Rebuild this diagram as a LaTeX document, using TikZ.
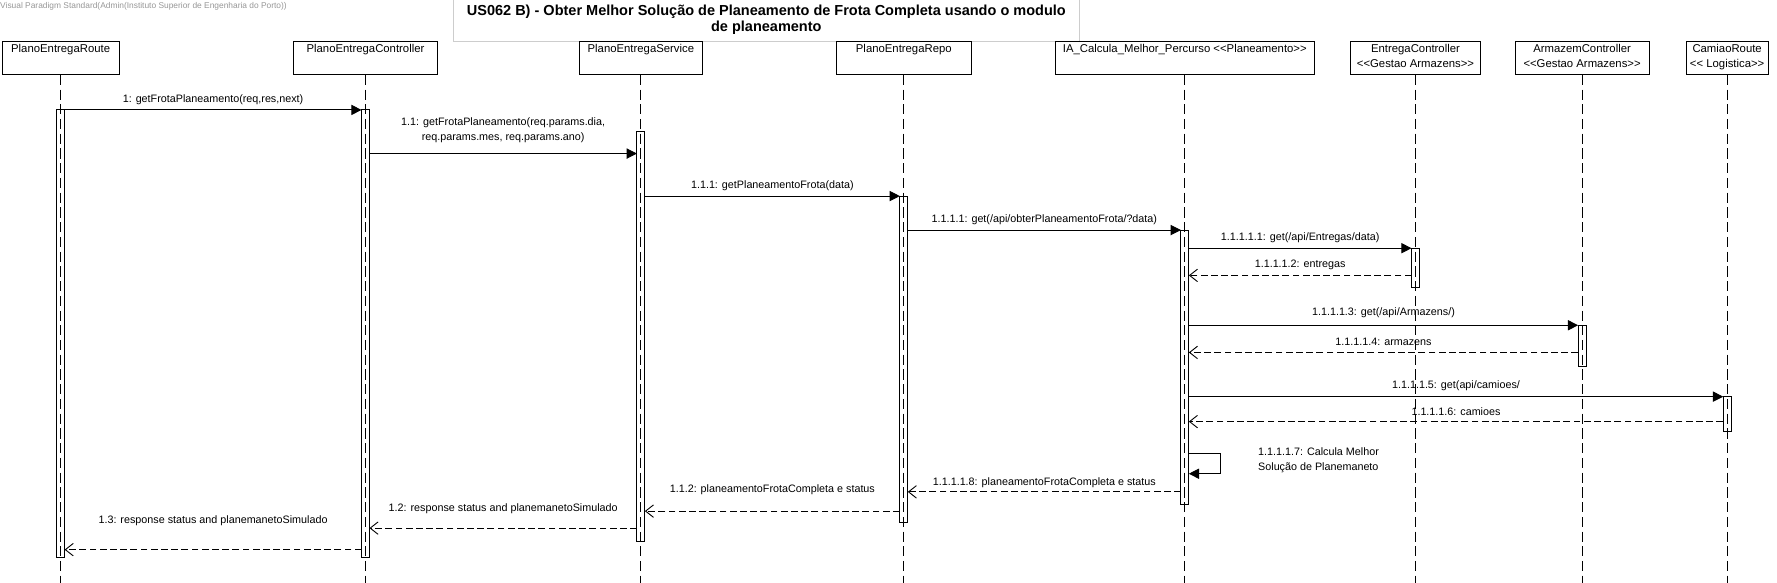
\documentclass[tikz,border=0pt]{standalone}
\usepackage{fontspec}
\setmainfont{Liberation Sans}
\usepackage{xcolor}
\usepackage{tikz}
\usetikzlibrary{arrows.meta, positioning, calc}
\definecolor{vpblack}{RGB}{0,0,0}
\definecolor{vpframe}{RGB}{205,205,205}
\definecolor{vpmark}{RGB}{150,150,150}

\begin{document}
\begin{tikzpicture}[
    x=1pt, y=-1pt,
    participant/.style={rectangle, draw=vpblack, line width=0.8pt, minimum height=29pt, inner sep=0pt, outer sep=0pt},
    pname/.style={anchor=north, align=center, font=\fontsize{10}{13}\selectfont, inner sep=2pt},
    lifeline/.style={line width=0.7pt, dash pattern=on 9pt off 4pt},
    activation/.style={rectangle, draw=vpblack, line width=0.8pt, minimum width=7pt, inner sep=0pt, outer sep=0pt},
    msg/.style={line width=0.8pt, -{Triangle[length=9pt, width=9pt]}},
    reply/.style={line width=0.8pt, dash pattern=on 6pt off 3pt, -{Straight Barb[length=7pt, width=11pt]}},
    msglabel/.style={font=\fontsize{9.5}{13.5}\selectfont, align=center, inner sep=1pt}
]
\useasboundingbox (0,0) rectangle (1568,514.4);

% Header
\node[anchor=west, inner sep=0pt, text=vpmark, font=\fontsize{7.4}{8}\selectfont] (mark) at (0,6) {Visual Paradigm Standard(Admin(Instituto Superior de Engenharia do Porto))};
\node[rectangle, draw=vpframe, fill=white, anchor=north west, minimum width=552pt, minimum height=37pt, align=center, font=\fontsize{12.8}{14}\bfseries] (title) at (400,-1) {US062 B) - Obter Melhor Solução de Planeamento de Frota Completa usando o modulo\\de planeamento};

% Participants from left to right
\node[participant, minimum width=103pt, anchor=north west, label={[pname]north:PlanoEntregaRoute}] (route) at (2,37) {};
\node[participant, minimum width=127pt, right=154pt of route, label={[pname]north:PlanoEntregaController}] (ctrl) {};
\node[participant, minimum width=109pt, right=125pt of ctrl, label={[pname]north:PlanoEntregaService}] (service) {};
\node[participant, minimum width=119pt, right=118pt of service, label={[pname]north:PlanoEntregaRepo}] (repo) {};
\node[participant, minimum width=229pt, right=74pt of repo, label={[pname]north:IA\_Calcula\_Melhor\_Percurso <{}<Planeamento>{}>}] (ia) {};
\node[participant, minimum width=114pt, right=32pt of ia, label={[pname]north:EntregaController\\<{}<Gestao Armazens>{}>}] (entrega) {};
\node[participant, minimum width=118pt, right=31pt of entrega, label={[pname]north:ArmazemController\\<{}<Gestao Armazens>{}>}] (armazem) {};
\node[participant, minimum width=72pt, right=33pt of armazem, label={[pname]north:CamiaoRoute\\<{}< Logistica>{}>}] (camiao) {};

% Lifelines
\coordinate (bottom) at (0,514.4);
\foreach \p in {route, ctrl, service, repo, ia, entrega, armazem, camiao}
    \draw[lifeline] (\p.south) -- (\p.south |- bottom);

% Activations
\node[activation, minimum height=395pt, below=31pt of route] (routeAct) {};
\node[activation, minimum height=395pt, below=31pt of ctrl] (ctrlAct) {};
\node[activation, minimum height=362pt, below=50pt of service] (serviceAct) {};
\node[activation, minimum height=288pt, below=107pt of repo] (repoAct) {};
\node[activation, minimum height=242pt, below=137pt of ia] (iaAct) {};
\node[activation, minimum height=35pt, below=153pt of entrega] (entregaAct) {};
\node[activation, minimum height=36pt, below=221pt of armazem] (armazemAct) {};
\node[activation, minimum height=31pt, below=284pt of camiao] (camiaoAct) {};

% Message levels
\coordinate (m1) at (0,97);
\coordinate (m2) at (0,135.5);
\coordinate (m3) at (0,173);
\coordinate (m4) at (0,203);
\coordinate (m5) at (0,219);
\coordinate (m6) at (0,243);
\coordinate (m7) at (0,287);
\coordinate (m8) at (0,311);
\coordinate (m9) at (0,350);
\coordinate (m10) at (0,372);
\coordinate (m11) at (0,400);
\coordinate (m11b) at (0,418);
\coordinate (m12) at (0,434);
\coordinate (m13) at (0,451);
\coordinate (m14) at (0,466);
\coordinate (m15) at (0,485);

% Calls
\draw[msg] (routeAct.east |- m1) -- node[msglabel, above=3.5pt] {1: getFrotaPlaneamento(req,res,next)} (ctrlAct.west |- m1);
\draw[msg] (ctrlAct.east |- m2) -- node[msglabel, above=8pt] {1.1: getFrotaPlaneamento(req.params.dia,\\req.params.mes, req.params.ano)} (serviceAct.west |- m2);
\draw[msg] (serviceAct.east |- m3) -- node[msglabel, above=3.5pt] {1.1.1: getPlaneamentoFrota(data)} (repoAct.west |- m3);
\draw[msg] (repoAct.east |- m4) -- node[msglabel, above=3.5pt] {1.1.1.1: get(/api/obterPlaneamentoFrota/?data)} (iaAct.west |- m4);
\draw[msg] (iaAct.east |- m5) -- node[msglabel, above=3.5pt] {1.1.1.1.1: get(/api/Entregas/data)} (entregaAct.west |- m5);
\draw[reply] (entregaAct.west |- m6) -- node[msglabel, above=3.5pt] {1.1.1.1.2: entregas} (iaAct.east |- m6);
\draw[msg] (iaAct.east |- m7) -- node[msglabel, above=5.5pt] {1.1.1.1.3: get(/api/Armazens/)} (armazemAct.west |- m7);
\draw[reply] (armazemAct.west |- m8) -- node[msglabel, above=4.5pt] {1.1.1.1.4: armazens} (iaAct.east |- m8);
\draw[msg] (iaAct.east |- m9) -- node[msglabel, above=3.5pt] {1.1.1.1.5: get(api/camioes/} (camiaoAct.west |- m9);
\draw[reply] (camiaoAct.west |- m10) -- node[msglabel, above=3.5pt] {1.1.1.1.6: camioes} (iaAct.east |- m10);

% Self call
\draw[msg] (iaAct.east |- m11) -- ++(28,0) |- (iaAct.east |- m11b);
\node[msglabel, anchor=west, align=left] (selfLabel) at ($(iaAct.east |- m11)!0.5!(iaAct.east |- m11b) + (60,-3)$) {1.1.1.1.7: Calcula Melhor\\Solução de Planemaneto};

% Replies
\draw[reply] (iaAct.west |- m12) -- node[msglabel, above=2.5pt] {1.1.1.1.8: planeamentoFrotaCompleta e status} (repoAct.east |- m12);
\draw[reply] (repoAct.west |- m13) -- node[msglabel, above=13.5pt] {1.1.2: planeamentoFrotaCompleta e status} (serviceAct.east |- m13);
\draw[reply] (serviceAct.west |- m14) -- node[msglabel, above=11.5pt] {1.2: response status and planemanetoSimulado} (ctrlAct.east |- m14);
\draw[reply] (ctrlAct.west |- m15) -- node[msglabel, above=19.5pt] {1.3: response status and planemanetoSimulado} (routeAct.east |- m15);

\end{tikzpicture}
\end{document}
